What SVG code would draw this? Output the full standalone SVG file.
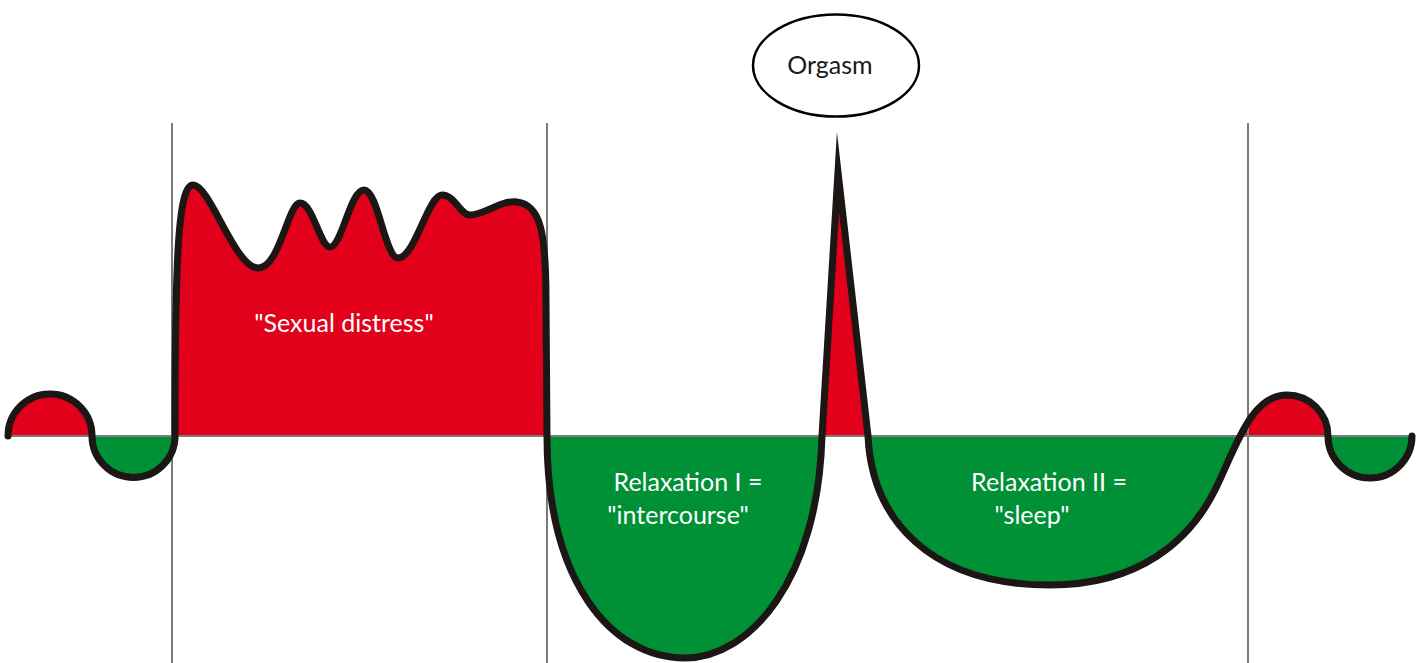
<svg xmlns="http://www.w3.org/2000/svg" width="1421" height="663" viewBox="0 0 1421 663">
<style>
.grid{stroke:#7a7a7a;stroke-width:2;fill:none}
.curve{stroke:#1c1714;stroke-width:7;fill:none;stroke-linejoin:miter;stroke-miterlimit:30;stroke-linecap:round}
.lbl{font-family:Lato,"Liberation Sans",sans-serif;font-size:25px;fill:#ffffff;text-anchor:middle}
.dark{fill:#1a1a1a}
</style>
<defs>
<clipPath id="above"><rect x="0" y="0" width="1421" height="436"/></clipPath>
<clipPath id="below"><rect x="0" y="436" width="1421" height="227"/></clipPath>
<path id="wave" d="M 8 436 A 42 42 0 0 1 92 436 A 41.5 41.5 0 0 0 175 436 C 175 260 178 185 193 185 C 210 185 235 268 258 268 C 280 268 288 203 300 203 C 313 203 320 247 330 247 C 342 247 350 190 364 190 C 378 190 385 258 398 258 C 415 258 428 195 442 195 C 455 195 460 215 470 215 C 485 215 500 200 517 202 C 540 205 546 230 546 300 L 547 436 C 547 580 610 658 685 658 C 750 658 818 580 822 436 L 838 172 L 868 436 C 872 520 930 585 1050 585 C 1140 585 1190 540 1215 490 C 1235 450 1250 395 1287 395 A 41 41 0 0 1 1328 436 A 42 42 0 0 0 1412 436"/>
</defs>
<g id="fills">
<use href="#wave" fill="#e2001a" fill-rule="evenodd" clip-path="url(#above)"/>
<use href="#wave" fill="#009036" fill-rule="evenodd" clip-path="url(#below)"/>
</g>
<g id="connectors">
<line class="grid" x1="8" y1="436" x2="1413" y2="436"/>
<line class="grid" x1="172" y1="123" x2="172" y2="663"/>
<line class="grid" x1="547" y1="123" x2="547" y2="663"/>
<line class="grid" x1="1248" y1="123" x2="1248" y2="663"/>
<use href="#wave" class="curve"/>
</g>
<g id="distress">
<text class="lbl" x="344" y="332">"Sexual distress"</text>
</g>
<g id="relax1">
<text class="lbl" x="688" y="491">Relaxation I =</text>
<text class="lbl" x="678" y="524">"intercourse"</text>
</g>
<g id="relax2">
<text class="lbl" x="1049" y="491">Relaxation II =</text>
<text class="lbl" x="1032" y="524">"sleep"</text>
</g>
<g id="orgasm">
<ellipse cx="836" cy="65.5" rx="83" ry="51" fill="#ffffff" stroke="#000000" stroke-width="2.5"/>
<text class="lbl dark" x="830" y="74">Orgasm</text>
</g>
</svg>
